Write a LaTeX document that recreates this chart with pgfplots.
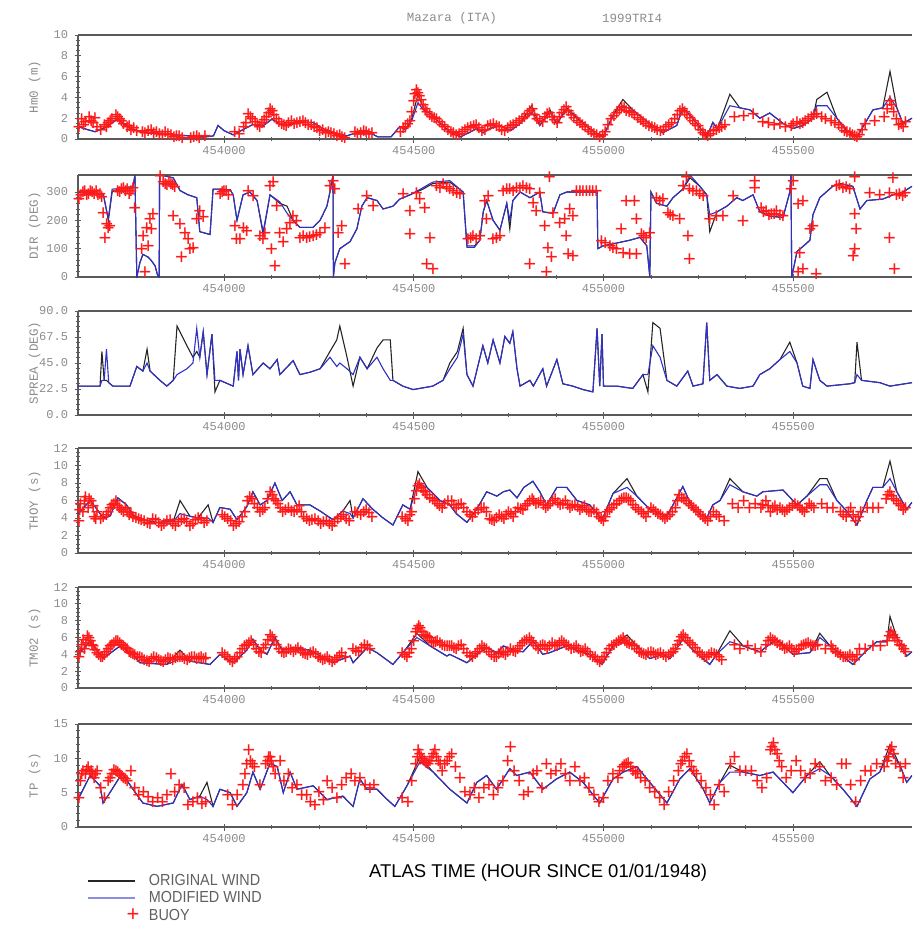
\documentclass[border=0pt]{standalone}
\usepackage{fontspec}
\usepackage{pgfplots}
\pgfplotsset{compat=1.18}
\usepackage{pgfplotstable}
\setmainfont{Liberation Sans}
\newfontfamily\monofont{Liberation Mono}
\newfontfamily\legfont[FakeStretch=0.9]{Liberation Sans}
\newfontfamily\plusfont{Liberation Sans}
\newcommand\buoyfont{\plusfont\fontsize{22}{22}\selectfont}
\definecolor{origc}{HTML}{262626}
\definecolor{modc}{HTML}{3030C8}
\definecolor{buoyc}{HTML}{FF1A1A}
\definecolor{axc}{HTML}{5A5A5A}
\definecolor{txtc}{HTML}{8C8C8C}

\pgfplotsset{
  panel/.style={
    scale only axis, width=834pt,
    xmin=453615, xmax=455813,
    scaled x ticks=false,
    axis x line*=box, axis y line*=left,
    axis line style={-, draw=axc, line width=1.6pt},
    xtick={454000,454500,455000,455500},
    xticklabels={454000,454500,455000,455500},
    minor x tick num=3,
    xtick pos=left, ytick pos=left,
    tick align=center,
    major tick length=7pt, minor tick length=4pt,
    every tick/.style={axc, line width=0.8pt},
    ticklabel style={font=\monofont\fontsize{12}{12}\selectfont, text=txtc},
    yticklabel style={xshift=-3pt},
    /pgf/number format/assume math mode=true,
    ylabel style={font=\monofont\fontsize{12.5}{12.5}\selectfont, text=txtc, at={(axis description cs:-0.052,0.5)}, anchor=center},
  },
  buoy/.style={only marks, mark=none, forget plot, nodes near coords={+},
    every node near coord/.append style={anchor=center, inner sep=0pt, outer sep=0pt, font=\buoyfont, text=buoyc}},
  orig/.style={origc, line width=1.1pt, no marks, forget plot},
  modw/.style={modc, line width=1.1pt, no marks, forget plot},
  lineleg/.style={legend image code/.code={\draw[##1] (0pt,0pt) -- (47pt,0pt);}},
  buoyleg/.style={legend image code/.code={\node[text=buoyc, font=\buoyfont, inner sep=0pt] at (38pt,0pt) {+};}},
}

\pgfplotstableread{
x o m
453615 1.2 1.2
453640 0.9 0.9
453660 0.7 0.7
453680 1.0 1.0
453700 1.4 1.4
453718 1.9 1.9
453735 1.5 1.5
453760 0.9 0.9
453790 0.6 0.6
453830 0.5 0.5
453870 0.4 0.4
453910 0.3 0.3
453950 0.2 0.2
453972 0.3 0.3
453984 1.3 1.3
454000 0.8 0.8
454024 0.4 0.4
454050 0.9 0.9
454076 1.4 1.4
454100 1.2 1.2
454126 1.9 1.9
454150 1.4 1.4
454165 1.3 1.3
454200 1.6 1.6
454234 1.6 1.6
454260 1.0 1.0
454290 0.6 0.6
454323 0.3 0.3
454340 0.5 0.5
454390 0.5 0.5
454405 0.2 0.2
454440 0.2 0.2
454463 1.2 1.2
454478 0.9 0.9
454495 2.0 1.8
454511 4.3 3.5
454525 3.0 2.8
454545 2.4 2.4
454570 1.5 1.5
454595 0.7 0.7
454622 0.2 0.2
454645 0.6 0.6
454666 1.0 1.0
454683 0.6 0.6
454700 1.0 1.0
454727 1.3 1.3
454755 0.8 0.8
454780 1.5 1.5
454811 3.2 2.6
454832 1.3 1.3
454859 2.8 2.6
454877 1.5 1.5
454903 3.0 2.8
454946 1.5 1.5
454983 0.4 0.4
455000 0.3 0.3
455025 2.3 2.3
455051 3.8 3.2
455077 2.8 2.8
455100 2.1 2.1
455122 1.5 1.5
455156 0.6 0.6
455193 1.3 1.3
455209 3.0 3.0
455230 2.2 2.2
455246 1.5 1.5
455272 0.2 0.2
455288 1.6 1.6
455300 1.0 1.0
455333 4.3 3.2
455359 3.0 3.0
455386 2.8 2.8
455412 2.0 2.0
455438 2.5 2.5
455473 1.5 1.5
455499 1.0 1.0
455525 1.3 1.3
455552 2.0 2.0
455562 3.8 3.2
455589 4.5 3.2
455615 2.0 2.0
455641 0.8 0.8
455668 0.2 0.2
455694 1.8 1.8
455710 2.8 2.8
455736 3.0 3.0
455755 6.5 4.0
455773 3.0 3.0
455789 1.5 1.5
455813 2.0 2.0
}\hmtab

\pgfplotstableread{
x o m
453615 300 300
453640 300 300
453665 295 295
453682 290 290
453695 200 205
453705 300 310
453720 310 312
453745 315 318
453760 318 318
453765 360 360
453770 0 0
453778 50 50
453786 80 80
453800 70 70
453807 60 60
453818 40 40
453825 5 5
453829 0 0
453830 360 360
453850 355 355
453866 350 350
453884 305 305
453905 290 290
453928 280 280
453936 160 160
453963 150 150
453971 310 310
453989 310 310
454016 308 308
454024 290 290
454034 200 200
454050 290 290
454068 300 300
454087 270 270
454103 150 160
454121 290 290
454147 260 265
454166 250 225
454182 200 200
454200 175 175
454234 175 175
454253 200 200
454271 250 250
454279 300 300
454287 360 360
454288 0 0
454292 50 50
454305 100 100
454332 125 125
454350 170 170
454363 250 250
454377 280 280
454403 270 270
454419 240 240
454445 250 250
454463 275 275
454490 290 290
454524 310 315
454550 330 335
454595 335 340
454630 300 300
454640 110 105
454660 110 105
454674 130 130
454683 230 230
454692 270 270
454709 200 200
454727 165 165
454745 260 260
454753 170 200
454761 270 270
454780 300 300
454806 280 280
454832 300 300
454840 230 230
454867 225 225
454885 290 290
454903 300 300
454983 300 300
454985 100 100
454999 110 110
455035 120 120
455070 130 130
455096 140 140
455114 110 110
455122 0 0
455125 300 300
455140 260 260
455167 250 250
455183 280 280
455209 310 310
455228 350 360
455254 320 320
455272 290 290
455280 160 220
455299 230 230
455325 250 250
455351 280 280
455367 270 270
455394 290 290
455412 230 230
455438 215 215
455473 210 210
455491 300 300
455494 360 360
455496 0 0
455510 90 90
455536 120 120
455544 130 130
455552 220 220
455570 280 280
455604 320 320
455623 330 330
455657 320 320
455676 240 240
455694 270 270
455736 275 275
455763 290 290
455789 300 300
455813 320 320
}\dirtab

\pgfplotstableread{
x o m
453615 25 25
453673 25 25
453678 55 30
453684 30 30
453690 30 57
453696 28 28
453707 25 25
453752 25 25
453770 42 42
453786 38 38
453797 57 45
453805 38 38
453831 30 30
453849 25 25
453866 30 30
453876 77 35
453902 60 40
453918 50 45
453928 55 75
453936 50 50
453945 72 72
453955 35 35
453968 70 70
453976 20 30
453989 30 30
454024 25 25
454034 55 55
454038 30 30
454042 57 57
454050 35 35
454063 60 60
454076 35 35
454103 45 45
454121 40 40
454140 48 48
454147 35 35
454182 47 47
454200 35 35
454226 37 37
454253 40 40
454279 55 50
454297 65 42
454305 77 45
454324 50 40
454340 25 35
454358 50 50
454377 40 40
454403 58 50
454419 65 40
454438 65 30
454445 30 30
454471 25 25
454498 22 22
454550 25 25
454577 30 30
454595 45 40
454615 55 50
454630 75 70
454640 35 35
454656 25 25
454682 60 60
454695 45 45
454709 65 65
454727 45 45
454740 68 68
454753 62 62
454761 72 72
454772 40 40
454780 25 25
454806 30 30
454815 25 25
454840 40 40
454850 25 25
454877 48 48
454893 27 27
454919 25 25
454946 22 22
454972 20 20
454983 75 75
454990 25 25
454996 70 70
455000 25 25
455035 25 25
455077 23 23
455104 35 35
455117 20 35
455130 80 60
455149 75 50
455167 30 30
455193 25 25
455222 38 38
455236 25 25
455262 27 27
455272 80 80
455280 30 30
455299 35 35
455325 25 25
455359 23 23
455394 25 25
455412 35 35
455438 40 40
455465 48 48
455491 63 55
455510 45 45
455525 25 25
455544 23 23
455552 48 48
455570 30 30
455589 25 25
455649 27 27
455662 28 28
455668 63 35
455680 30 30
455728 28 28
455755 25 25
455813 28 28
}\sptab

\pgfplotstableread{
x o m
453615 4.5 4.5
453647 6.0 6.0
453665 5.0 5.0
453681 4.0 4.0
453699 4.2 4.2
453720 6.3 6.3
453743 5.5 5.5
453760 4.3 4.3
453786 3.8 3.8
453823 3.5 3.5
453866 3.6 3.6
453884 6.0 4.5
453910 4.2 4.2
453931 4.0 4.0
453958 5.5 4.0
453971 3.5 3.5
453989 5.2 5.2
454016 5.0 5.0
454034 3.8 3.8
454060 5.3 5.3
454076 7.0 7.0
454095 5.5 5.5
454113 6.0 6.0
454134 8.0 8.0
454153 6.0 6.0
454174 7.0 7.0
454192 5.5 5.5
454226 5.5 5.5
454253 4.8 4.8
454287 3.8 3.8
454313 4.8 4.8
454332 6.0 4.5
454340 4.0 4.0
454366 6.2 6.2
454392 5.0 5.0
454419 4.0 4.0
454445 3.2 3.2
454471 5.5 5.5
454490 5.0 5.0
454511 9.3 8.0
454535 7.5 7.5
454569 6.0 6.0
454595 5.5 5.5
454612 4.5 4.5
454640 3.5 3.5
454666 5.0 5.0
454692 7.0 7.0
454719 6.5 6.5
454736 7.0 7.0
454753 7.2 7.2
454772 6.3 6.3
454790 7.5 7.5
454814 8.2 8.2
454832 7.0 7.0
454850 5.5 5.5
454877 7.5 7.5
454903 7.5 7.5
454930 6.0 6.0
454964 5.5 5.5
454996 3.8 3.8
455025 6.8 6.8
455062 8.5 7.5
455088 6.5 6.5
455122 5.0 5.0
455167 4.2 4.2
455209 7.6 7.6
455236 5.0 5.0
455272 4.0 4.0
455288 5.5 5.5
455307 6.0 6.0
455333 8.5 7.8
455367 7.0 7.0
455404 6.5 6.5
455420 7.0 7.0
455473 7.2 7.2
455510 5.5 5.5
455536 6.5 6.5
455570 8.5 7.8
455589 8.5 7.8
455615 6.0 6.0
455641 4.8 4.8
455668 3.2 3.2
455694 6.0 6.0
455710 7.5 7.5
455736 7.5 7.5
455755 10.5 8.5
455773 7.0 7.0
455799 5.0 5.0
455813 5.8 5.8
}\thtab

\pgfplotstableread{
x o m
453615 4.0 4.0
453647 5.5 5.5
453665 4.5 4.5
453681 3.5 3.5
453726 5.0 5.0
453760 4.0 4.0
453778 3.0 3.0
453849 2.8 2.8
453884 4.5 3.5
453910 3.2 3.2
453936 3.0 3.0
453963 2.8 2.8
453989 4.0 4.0
454024 3.0 3.0
454060 4.5 4.5
454076 5.8 5.8
454095 4.5 4.5
454113 4.0 4.0
454134 6.0 6.0
454153 4.5 4.5
454182 4.8 4.8
454226 4.5 4.5
454287 3.0 3.0
454332 3.8 3.8
454340 3.0 3.0
454377 4.8 4.8
454403 4.2 4.2
454445 2.8 2.8
454477 4.5 4.5
454508 6.5 6.0
454543 5.0 5.0
454587 3.8 3.8
454595 4.0 4.0
454640 3.0 3.0
454666 4.0 4.0
454692 4.8 4.8
454719 4.2 4.2
454736 5.0 5.0
454761 4.5 4.5
454788 4.3 4.3
454814 5.6 5.6
454840 4.0 4.0
454858 4.2 4.2
454903 5.0 5.0
454938 4.3 4.3
454964 4.0 4.0
454996 2.8 2.8
455025 5.0 5.0
455062 6.3 5.5
455088 5.0 5.0
455122 3.5 3.5
455157 4.0 4.0
455175 3.5 3.5
455209 5.8 5.8
455236 4.5 4.5
455280 2.8 2.8
455298 4.0 4.0
455333 6.8 5.5
455368 5.0 5.0
455412 4.3 4.3
455456 5.8 5.8
455499 4.0 4.0
455544 4.2 4.2
455570 6.5 6.0
455597 5.0 5.0
455657 2.8 2.8
455694 4.5 4.5
455720 5.5 5.5
455747 5.5 5.5
455755 8.5 7.0
455773 6.0 6.0
455799 3.8 3.8
455813 4.3 4.3
}\tmtab

\pgfplotstableread{
x o m
453615 4.0 4.0
453647 7.5 7.5
453673 6.0 6.0
453681 3.5 3.5
453699 5.0 5.0
453731 7.8 7.8
453760 5.5 5.5
453786 3.5 3.5
453823 3.0 3.0
453866 3.5 3.5
453889 6.2 6.2
453910 4.0 4.0
453936 4.5 4.5
453955 6.5 4.0
453971 3.0 3.0
453989 5.5 5.5
454016 5.0 5.0
454034 3.0 3.0
454060 5.0 5.0
454076 8.0 8.0
454095 5.5 5.5
454121 9.3 9.3
454140 8.8 8.8
454156 5.0 5.0
454174 8.0 8.0
454192 5.5 5.5
454235 6.0 6.0
454271 4.0 4.0
454313 4.5 4.5
454340 3.0 3.0
454358 7.0 7.0
454376 5.5 5.5
454403 5.5 5.5
454430 4.0 4.0
454450 3.0 3.0
454482 6.0 6.0
454516 10.2 9.5
454551 8.0 8.0
454595 5.5 5.5
454640 3.5 3.5
454666 6.5 6.5
454692 7.5 7.5
454718 5.5 5.5
454753 8.5 8.5
454771 7.5 7.5
454806 8.0 8.0
454840 5.5 5.5
454876 7.0 7.0
454911 8.0 8.0
454946 6.5 6.5
454990 3.5 3.5
455025 7.0 7.0
455052 8.0 8.0
455088 8.8 8.8
455122 6.5 6.5
455167 3.5 3.5
455201 7.0 7.0
455228 8.5 8.5
455263 5.5 5.5
455280 3.5 3.5
455307 6.5 6.5
455333 9.0 8.0
455368 8.0 8.0
455412 7.5 7.5
455447 8.0 8.0
455499 5.0 5.0
455536 7.5 7.5
455570 9.5 8.5
455597 7.5 7.5
455631 5.5 5.5
455668 3.0 3.0
455702 7.0 7.0
455728 8.0 8.0
455755 12.0 11.0
455781 9.0 9.0
455799 6.5 6.5
455813 7.5 7.5
}\tptab

\begin{document}
\begin{tikzpicture}
\path[use as bounding box] (0pt,0pt) rectangle (913pt,-927pt);
\node[font=\monofont\fontsize{12.5}{12.5}\selectfont, text=txtc] at (452pt,-18pt) {Mazara (ITA)};
\node[font=\monofont\fontsize{12.5}{12.5}\selectfont, text=txtc] at (632pt,-18pt) {1999TRI4};

% Panel 1 Hm0
\begin{axis}[panel, at={(78pt,-139pt)}, anchor=south west, height=104pt,
  ymin=0, ymax=10, ytick={0,2,4,6,8,10}, yticklabels={0,2,4,6,8,10}, minor y tick num=3,
  ylabel={Hm0 (m)}]
\addplot[buoy] coordinates {(453618,1.0) (453625,1.8) (453635,1.5) (453645,2.0) (453655,1.4) (453665,1.0) (453675,0.8) (453685,1.2) (453695,1.4) (453705,1.8) (453715,2.2) (453725,1.8) (453735,1.3) (453745,1.0) (453755,0.8) (453770,0.7) (453785,0.6) (453800,0.7) (453815,0.5) (453830,0.4) (453845,0.6) (453860,0.3) (453875,0.2) (453890,0.0) (453905,-0.1) (453920,0.1) (453935,0.0) (453950,0.2)
(454028,0.6) (454040,0.4) (454052,1.0) (454064,2.3) (454075,1.8) (454088,1.2) (454100,1.4) (454112,2.0) (454122,2.8) (454132,2.2) (454145,1.5) (454158,1.2) (454170,1.4) (454185,1.3) (454200,1.5) (454215,1.4) (454230,1.2) (454245,0.9) (454260,0.8) (454275,0.6) (454290,0.4) (454305,0.3) (454318,0.0)
(454345,0.6) (454360,0.5) (454375,0.6) (454390,0.5)
(454465,0.6) (454478,1.0) (454490,1.6) (454500,3.5) (454507,4.6) (454515,4.0) (454525,3.2) (454535,2.5) (454548,2.0) (454560,1.8) (454575,1.2) (454590,0.8) (454605,0.5) (454620,0.4) (454635,0.8) (454650,1.0) (454665,1.2) (454680,0.7) (454695,1.1) (454710,1.3) (454725,1.0) (454740,0.7) (454755,1.1) (454770,1.4) (454785,1.8) (454800,2.3) (454812,2.8) (454825,1.8) (454840,1.5) (454852,2.3) (454865,2.0) (454878,1.4) (454890,2.4) (454902,3.0) (454915,2.2) (454930,1.6) (454945,1.2) (454960,0.8) (454975,0.4) (454990,0.1) (455005,0.6) (455020,1.8) (455035,2.4) (455048,3.0) (455060,2.6) (455075,2.4) (455090,1.9) (455105,1.5) (455120,1.1) (455135,0.9) (455150,0.7) (455165,1.0) (455180,1.4) (455195,2.2) (455208,2.8) (455220,2.2) (455235,1.6) (455250,1.1) (455262,0.5) (455275,0.2) (455290,0.7) (455305,0.9) (455320,1.2) (455345,2.0) (455370,2.1) (455395,2.3) (455420,1.5) (455435,1.4) (455450,1.2) (455465,1.3) (455480,1.0) (455495,1.1) (455510,1.5) (455525,1.4) (455540,1.8) (455555,2.2) (455575,2.0) (455600,1.6) (455620,1.2) (455635,0.7) (455650,0.5) (455662,0.2) (455675,0.3) (455690,1.3) (455715,1.6) (455740,2.0) (455755,3.5) (455765,2.5) (455778,1.2) (455790,1.0) (455796,1.5)
(453630,1.2) (453650,1.6) (453660,1.9) (453690,1.0) (453700,1.6) (453720,2.0) (453730,1.6) (453750,1.1) (453762,0.9) (453792,0.5) (453808,0.8) (453822,0.6) (453838,0.3) (453852,0.4) (453868,0.1) (453882,0.2) (453898,-0.1) (453912,0.0) (453928,0.2) (453942,-0.1) (454058,1.4) (454070,2.0) (454082,1.5) (454094,1.0) (454106,1.7) (454118,2.4) (454127,2.6) (454138,1.8) (454152,1.3) (454164,1.1) (454178,1.6) (454192,1.4) (454208,1.6) (454222,1.2) (454238,1.0) (454252,0.7) (454268,0.5) (454282,0.5) (454298,0.2) (454311,0.1) (454352,0.4) (454368,0.7) (454382,0.4) (454472,0.9) (454484,1.3) (454495,2.5) (454503,4.2) (454511,4.3) (454520,3.6) (454530,2.8) (454542,2.2) (454554,1.9) (454568,1.5) (454582,1.0) (454598,0.6) (454612,0.3) (454628,0.6) (454642,0.9) (454658,1.1) (454672,0.9) (454688,0.8) (454702,1.2) (454718,1.1) (454732,0.8) (454748,0.9) (454762,1.2) (454778,1.6) (454792,2.0) (454806,2.6) (454818,2.2) (454832,1.6) (454846,2.0) (454858,2.4) (454871,1.7) (454884,2.0) (454896,2.7) (454908,2.6) (454922,1.9) (454938,1.4) (454952,1.0) (454968,0.6) (454982,0.3) (454998,0.3) (455012,1.2) (455028,2.1) (455042,2.7) (455055,2.9) (455068,2.5) (455082,2.2) (455098,1.7) (455112,1.3) (455128,1.0) (455142,0.8) (455158,0.8) (455172,1.2) (455188,1.8) (455202,2.6) (455214,2.5) (455228,1.9) (455242,1.3) (455256,0.8) (455268,0.3) (455282,0.4) (455298,0.8) (455312,1.0) (455500,1.3) (455518,1.3) (455532,1.6) (455548,2.0) (455562,2.3) (455585,1.8) (455610,1.4) (455628,0.9) (455642,0.6) (455656,0.3) (455668,0.1) (455682,0.8) (455748,2.8) (455760,3.2) (455772,1.8) (455785,1.3)};
\addplot[orig] table[x=x,y=o] {\hmtab};
\addplot[modw] table[x=x,y=m] {\hmtab};
\end{axis}

% Panel 2 DIR
\begin{axis}[panel, at={(78pt,-277pt)}, anchor=south west, height=102pt,
  ymin=0, ymax=360, ytick={0,100,200,300}, yticklabels={0,100,200,300}, minor y tick num=4,
  ylabel={DIR (DEG)}]
\addplot[buoy] coordinates {(453618,270) (453628,295) (453638,285) (453648,300) (453658,290) (453668,285) (453678,280)
(453623,285) (453633,300) (453643,290) (453653,295) (453663,300) (453673,290)
(453682,223) (453691,182) (453699,176) (453686,135) (453695,170)
(453720,300) (453730,305) (453740,300) (453750,290) (453760,310) (453765,240) (453725,295) (453735,310) (453745,305) (453755,300)
(453783,94) (453787,141) (453796,170) (453805,200) (453813,218) (453792,12) (453800,106) (453809,165)
(453832,352) (453840,330) (453850,320) (453860,325) (453870,315) (453845,325) (453855,330) (453865,320)
(453866,212) (453884,182) (453897,153) (453906,129) (453910,94) (453888,65) (453919,100) (453928,200) (453936,229) (453945,206)
(453990,290) (454000,300) (454012,285) (453995,295) (454006,300)
(454029,176) (454033,129) (454042,129) (454051,170) (454060,159) (454064,300) (454077,282)
(454095,141) (454103,129) (454108,153)
(454121,318) (454130,330) (454139,247) (454125,94) (454134,35) (454147,153) (454156,118) (454165,165) (454174,188) (454182,212) (454191,194)
(454200,135) (454218,135) (454235,141) (454253,153) (454266,170) (454209,140) (454226,138) (454244,145)
(454279,318) (454288,335) (454292,306) (454301,153) (454310,176) (454319,41)
(454354,235) (454376,282) (454393,247)
(454472,288) (454490,229) (454490,147) (454516,270) (454529,241) (454543,135) (454534,41) (454551,24) (454507,294)
(454560,318) (454578,323) (454595,306) (454613,294) (454569,310) (454587,315) (454604,300)
(454622,290) (454643,129) (454656,141) (454674,141) (454709,129) (454718,135) (454727,141) (454650,135) (454665,130)
(454687,264) (454696,282) (454692,200)
(454736,299) (454753,305) (454771,311) (454788,317) (454806,305) (454745,305) (454762,300) (454780,310) (454797,310)
(454815,258) (454823,229) (454832,293) (454845,176) (454854,100) (454858,350) (454863,65) (454850,12) (454806,41)
(454867,223) (454885,188) (454898,200) (454911,235) (454902,141) (454920,211) (454907,76) (454920,70)
(454929,299) (454946,299) (454964,299) (454981,299) (454938,299) (454955,299) (454972,299)
(454995,123) (455017,106) (455034,94) (455052,82) (455069,76) (455087,76) (455047,164) (455060,264) (455082,264) (455087,200) (455005,115) (455025,100)
(455100,147) (455113,135) (455122,153) (455106,140)
(455140,276) (455157,270) (455170,223) (455183,211) (455201,200) (455223,141) (455227,59) (455219,350) (455148,265) (455176,215)
(455210,317) (455227,305) (455245,299) (455263,282) (455236,300) (455254,290)
(455280,200) (455298,211) (455315,211) (455368,194) (455342,282) (455399,334) (455399,311)
(455416,240) (455429,229) (455443,217) (455456,229) (455473,211) (455422,225) (455436,215) (455450,220) (455465,215)
(455495,305) (455500,334)
(455513,252) (455526,264) (455517,82) (455526,23) (455544,164) (455552,176) (455561,6) (455513,12)
(455614,317) (455631,311) (455649,305) (455662,350) (455622,320) (455640,315)
(455662,217) (455666,164) (455662,94) (455658,70)
(455702,293) (455728,287) (455754,293) (455772,287) (455789,282) (455795,293) (455754,135) (455767,23) (455763,346) (455780,290)};
\addplot[orig] table[x=x,y=o] {\dirtab};
\addplot[modw] table[x=x,y=m] {\dirtab};
\end{axis}

% Panel 3 SPREAD
\begin{axis}[panel, at={(78pt,-415pt)}, anchor=south west, height=104pt,
  ymin=0, ymax=90, ytick={0,22.5,45,67.5,90}, yticklabels={0.0,22.5,45.0,67.5,90.0}, minor y tick num=4,
  ylabel={SPREA (DEG)}]
\addplot[orig] table[x=x,y=o] {\sptab};
\addplot[modw] table[x=x,y=m] {\sptab};
\end{axis}

% Panel 4 THOY
\begin{axis}[panel, at={(78pt,-553pt)}, anchor=south west, height=105pt,
  ymin=0, ymax=12, ytick={0,2,4,6,8,10,12}, yticklabels={0,2,4,6,8,10,12}, minor y tick num=3,
  ylabel={THOY (s)}]
\addplot[buoy] coordinates {(453618,3.5) (453622,5.5) (453628,4.5) (453635,6.3) (453642,5.0) (453650,5.8) (453658,4.0) (453665,4.5) (453675,3.8) (453690,4.2) (453700,5.0) (453710,5.5) (453720,5.2) (453730,4.8) (453740,5.0) (453750,4.2) (453760,4.0) (453775,3.8) (453790,3.5) (453805,3.2) (453820,3.6) (453835,3.0) (453850,3.5) (453865,3.2) (453880,3.4) (453895,3.8) (453910,3.0) (453925,3.6) (453940,3.8) (453955,3.5)
(453995,4.2) (454010,3.8) (454025,3.0) (454040,3.4) (454055,4.5) (454068,6.3) (454080,5.5) (454095,4.5) (454108,5.0) (454122,6.8) (454132,6.0) (454142,5.5) (454155,4.5) (454170,5.0) (454185,4.5) (454198,5.2) (454210,4.0) (454225,3.5) (454240,3.8) (454255,3.2) (454270,3.5) (454285,3.0) (454300,3.8) (454315,4.2) (454330,3.5) (454345,4.5) (454360,4.2) (454375,4.8) (454390,4.0)
(454470,4.0) (454485,3.5) (454495,4.5) (454507,7.0) (454515,7.8) (454525,7.0) (454535,6.5) (454550,6.0) (454562,5.5) (454575,5.0) (454590,5.8)
(454600,5.8) (454612,5.0) (454625,5.5) (454640,4.5) (454655,4.0) (454670,4.8) (454685,5.0) (454700,3.8) (454712,3.5) (454725,4.2) (454738,3.8) (454750,4.5) (454762,4.0) (454775,5.0) (454788,4.8) (454800,5.5) (454812,6.0) (454822,5.5) (454835,5.8) (454848,5.0) (454860,5.5) (454873,6.0) (454886,5.3) (454900,5.8) (454912,5.0) (454925,5.4) (454938,4.8) (454950,5.2) (454962,4.5) (454975,4.8) (454988,4.0) (455000,3.5) (455010,4.5) (455022,5.0) (455035,5.5) (455048,6.0) (455060,6.2) (455072,5.8) (455085,5.0) (455100,4.5) (455112,4.0) (455125,5.0) (455138,4.5) (455150,4.2) (455162,3.8) (455175,4.2) (455190,5.0) (455200,6.5) (455212,6.0) (455225,5.5) (455238,5.0) (455250,4.5) (455262,4.0) (455275,3.5) (455290,4.5) (455305,4.0) (455318,3.5) (455340,5.5) (455355,5.0) (455370,5.8) (455385,5.0) (455400,5.5) (455415,5.0) (455428,5.8) (455440,4.5) (455452,5.2) (455465,5.0) (455478,4.5) (455490,5.0) (455505,5.5) (455518,5.0) (455530,4.5) (455542,5.5) (455555,5.0) (455575,5.5) (455590,5.0) (455605,5.0) (455625,4.5) (455640,4.0) (455652,5.0) (455665,3.5) (455678,4.5) (455695,5.0) (455710,5.0) (455725,5.0) (455745,6.0) (455755,6.8) (455765,6.0) (455778,5.5) (455790,4.8) (455796,5.0)
(453620,4.8) (453632,5.8) (453645,6.0) (453655,5.2) (453662,3.8) (453682,4.0) (453695,4.6) (453705,5.3) (453715,5.8) (453725,5.0) (453735,4.5) (453745,4.6) (453755,4.4) (453768,3.9) (453782,3.6) (453798,3.3) (453812,3.8) (453828,3.3) (453842,3.2) (453858,3.6) (453872,3.0) (453888,3.6) (453902,3.4) (453918,3.2) (453932,3.9) (453948,3.3) (454002,4.0) (454018,3.5) (454032,3.2) (454048,4.0) (454062,5.8) (454074,6.0) (454088,5.0) (454102,4.8) (454115,6.0) (454127,6.5) (454137,5.8) (454148,5.0) (454162,4.8) (454178,4.7) (454192,4.8) (454204,4.5) (454218,3.8) (454232,3.6) (454248,3.5) (454262,3.4) (454278,3.2) (454292,3.4) (454308,4.0) (454322,3.8) (454352,4.4) (454368,4.6) (454382,4.4) (454478,3.8) (454490,4.2) (454502,6.0) (454511,7.5) (454520,7.3) (454530,6.8) (454542,6.2) (454556,5.8) (454568,5.2) (454582,5.5) (454606,5.4) (454618,5.3) (454632,5.0) (454648,4.2) (454662,4.4) (454678,5.0) (454692,4.6) (454706,3.6) (454718,3.9) (454732,4.0) (454744,4.2) (454756,4.3) (454768,4.5) (454782,4.9) (454794,5.2) (454806,5.8) (454816,5.8) (454829,5.6) (454842,5.4) (454854,5.2) (454866,5.8) (454880,5.6) (454893,5.5) (454906,5.4) (454918,5.2) (454932,5.1) (454944,5.0) (454956,4.8) (454968,4.6) (454982,4.4) (454994,3.8) (455005,4.0) (455016,4.8) (455028,5.3) (455042,5.8) (455054,6.1) (455066,6.0) (455078,5.4) (455092,4.8) (455106,4.3) (455118,4.5) (455132,4.8) (455144,4.3) (455156,4.0) (455168,4.0) (455182,4.6) (455195,5.8) (455206,6.2) (455218,5.8) (455232,5.2) (455244,4.8) (455256,4.2) (455268,3.8) (455282,4.0) (455298,4.2) (455420,5.4) (455434,5.2) (455446,5.0) (455458,4.8) (455472,4.8) (455484,4.8) (455498,5.2) (455512,5.2) (455524,4.8) (455536,5.0) (455548,5.2) (455632,4.2) (455646,4.5) (455658,4.2) (455672,4.0) (455750,6.5) (455760,6.4) (455772,5.8) (455784,5.2)};
\addplot[orig] table[x=x,y=o] {\thtab};
\addplot[modw] table[x=x,y=m] {\thtab};
\end{axis}

% Panel 5 TM02
\begin{axis}[panel, at={(78pt,-688pt)}, anchor=south west, height=101pt,
  ymin=0, ymax=12, ytick={0,2,4,6,8,10,12}, yticklabels={0,2,4,6,8,10,12}, minor y tick num=3,
  ylabel={TM02 (s)}]
\addplot[buoy] coordinates {(453618,3.5) (453625,5.0) (453632,4.5) (453640,6.0) (453648,5.5) (453655,4.8) (453665,4.0) (453675,3.5) (453685,3.8) (453695,4.5) (453705,5.0) (453715,5.5) (453725,5.2) (453735,4.8) (453745,4.5) (453755,4.0) (453765,3.8) (453778,3.5) (453790,3.2) (453803,3.0) (453815,3.5) (453828,3.2) (453840,3.0) (453852,3.4) (453865,3.2) (453878,3.6) (453890,3.5) (453903,3.2) (453915,3.6) (453928,3.3) (453940,3.5) (453952,3.4)
(453995,4.0) (454010,3.5) (454022,3.0) (454035,3.5) (454048,4.5) (454060,5.0) (454072,5.5) (454085,4.5) (454098,4.0) (454110,5.0) (454122,6.2) (454132,5.5) (454145,4.5) (454158,4.0) (454170,4.5) (454183,4.2) (454195,4.6) (454208,4.0) (454220,3.8) (454235,4.2) (454248,3.6) (454260,3.2) (454272,3.5) (454285,3.0) (454298,3.4) (454310,4.0) (454320,3.5)
(454340,4.5) (454355,4.2) (454370,5.0) (454385,4.5)
(454470,4.0) (454482,3.5) (454494,4.5) (454505,6.5) (454513,7.2) (454522,6.5) (454532,6.0) (454542,5.8) (454552,5.2) (454562,5.5) (454575,5.0) (454588,4.8)
(454600,4.8) (454612,4.5) (454625,5.0) (454640,4.0) (454655,3.5) (454668,4.2) (454680,4.8) (454692,4.5) (454705,3.8) (454718,3.5) (454730,4.2) (454742,3.8) (454755,4.5) (454768,4.2) (454780,4.8) (454792,5.5) (454805,5.8) (454815,5.2) (454828,4.5) (454840,5.0) (454852,4.5) (454865,5.2) (454878,4.8) (454890,5.5) (454902,5.0) (454915,4.5) (454928,4.8) (454940,4.2) (454952,4.5) (454965,3.8) (454978,3.5) (454990,3.0) (455002,3.5) (455015,4.5) (455028,5.0) (455040,5.5) (455052,5.8) (455062,5.2) (455075,5.0) (455088,4.5) (455100,4.0) (455112,3.8) (455125,4.2) (455138,3.8) (455150,4.0) (455165,3.5) (455178,4.0) (455190,4.5) (455200,5.5) (455210,6.2) (455222,5.5) (455235,5.0) (455248,4.2) (455260,3.8) (455272,3.5) (455285,4.0) (455298,3.8) (455312,3.2)
(455345,5.0) (455360,4.5) (455380,4.8) (455400,4.5) (455415,4.2) (455428,5.0) (455440,5.8) (455452,5.5) (455465,5.0) (455478,4.5) (455490,4.8) (455503,4.2) (455515,4.5) (455528,5.0) (455540,5.2) (455552,4.8) (455565,5.0) (455585,4.5) (455600,4.8) (455612,4.2) (455625,3.8) (455638,3.5) (455650,3.8) (455662,3.2) (455675,4.5) (455690,4.5) (455710,4.8) (455730,4.8) (455748,5.5) (455758,6.5) (455768,5.8) (455780,5.0) (455792,4.5) (455796,4.2)
(453621,4.2) (453629,5.6) (453636,5.2) (453644,5.8) (453652,5.0) (453660,4.4) (453670,3.8) (453680,3.6) (453690,4.2) (453700,4.8) (453710,5.2) (453720,5.4) (453730,5.0) (453740,4.6) (453750,4.2) (453760,3.9) (453772,3.6) (453784,3.4) (453797,3.1) (453809,3.3) (453822,3.4) (453834,3.1) (453846,3.2) (453858,3.3) (453872,3.4) (453884,3.5) (453896,3.3) (453909,3.4) (453922,3.5) (453934,3.4) (453946,3.3) (454002,3.8) (454016,3.2) (454028,3.3) (454042,4.0) (454054,4.8) (454066,5.2) (454078,5.0) (454092,4.2) (454104,4.6) (454116,5.6) (454127,5.9) (454138,5.0) (454152,4.2) (454164,4.2) (454176,4.4) (454189,4.4) (454202,4.3) (454214,3.9) (454228,4.0) (454242,3.9) (454254,3.4) (454266,3.3) (454278,3.2) (454292,3.2) (454304,3.7) (454348,4.3) (454362,4.6) (454378,4.8) (454476,3.8) (454488,4.0) (454500,5.5) (454509,6.9) (454517,7.0) (454527,6.2) (454537,5.9) (454547,5.5) (454557,5.3) (454569,5.2) (454582,4.9) (454594,4.9) (454606,4.6) (454618,4.8) (454632,4.5) (454648,3.7) (454662,3.9) (454674,4.5) (454686,4.6) (454698,4.1) (454712,3.6) (454724,3.9) (454736,4.0) (454748,4.2) (454762,4.3) (454774,4.5) (454786,5.2) (454798,5.6) (454810,5.5) (454822,4.8) (454834,4.8) (454846,4.8) (454858,4.9) (454872,5.0) (454884,5.2) (454896,5.2) (454908,4.8) (454922,4.6) (454934,4.5) (454946,4.3) (454958,4.2) (454972,3.6) (454984,3.2) (454996,3.2) (455008,4.0) (455022,4.8) (455034,5.2) (455046,5.6) (455057,5.5) (455068,5.1) (455082,4.8) (455094,4.2) (455106,3.9) (455118,4.0) (455132,4.0) (455144,3.9) (455158,3.8) (455172,3.8) (455184,4.2) (455195,5.0) (455205,5.9) (455216,5.8) (455228,5.2) (455242,4.6) (455254,4.0) (455266,3.6) (455278,3.8) (455292,3.9) (455305,3.5) (455434,5.4) (455446,5.6) (455458,5.2) (455472,4.8) (455484,4.6) (455496,4.5) (455509,4.4) (455522,4.8) (455534,5.1) (455546,5.0) (455558,4.9) (455605,4.5) (455618,4.0) (455632,3.6) (455644,3.6) (455656,3.5) (455668,3.8) (455753,6.0) (455763,6.2) (455774,5.4) (455786,4.8)};
\addplot[orig] table[x=x,y=o] {\tmtab};
\addplot[modw] table[x=x,y=m] {\tmtab};
\end{axis}

% Panel 6 TP
\begin{axis}[panel, at={(78pt,-827pt)}, anchor=south west, height=103pt,
  ymin=0, ymax=15, ytick={0,5,10,15}, yticklabels={0,5,10,15}, minor y tick num=4,
  ylabel={TP (s)},
  xlabel={ATLAS TIME (HOUR SINCE 01/01/1948)},
  xlabel style={font=\fontsize{18.5}{18.5}\selectfont, text=black, at={(axis description cs:0.5516,-0.447)}, anchor=center},
  legend style={at={(axis description cs:0.0115,-0.455)}, anchor=north west, draw=none, fill=none,
    font=\legfont\fontsize{16}{16.5}\selectfont, text=gray!75!black, inner sep=0pt, row sep=3.5pt, column sep=3pt,
    nodes={inner xsep=6.5pt, inner ysep=0.5pt}},
  legend cell align=left, lineleg]
\addlegendimage{origc, line width=1.3pt}
\addlegendentry{ORIGINAL WIND}
\addlegendimage{modc!55!white, line width=1.3pt}
\addlegendentry{MODIFIED WIND}
\addlegendimage{buoyc, buoyleg}
\addlegendentry{BUOY}
\addplot[buoy] coordinates {(453618,4.0) (453622,6.5) (453628,8.0) (453635,7.5) (453642,8.5) (453650,8.0) (453658,7.0) (453666,8.0) (453675,5.5) (453685,4.0) (453695,6.5) (453705,7.5) (453715,8.0) (453725,7.5) (453735,7.0) (453745,6.5) (453755,8.0) (453765,5.5) (453775,4.5) (453788,5.0) (453800,4.2) (453812,3.5) (453825,4.0) (453838,3.5) (453850,4.5) (453860,7.5) (453870,5.0) (453882,6.0) (453895,5.5) (453905,3.0) (453918,3.5) (453930,4.0) (453942,3.2) (453952,3.5)
(454010,4.5) (454022,3.0) (454035,4.5) (454050,6.0) (454060,9.0) (454065,11.0) (454070,9.5) (454080,8.5) (454095,6.0) (454110,9.0) (454118,10.0) (454125,9.5) (454135,7.5) (454148,9.5) (454158,6.5) (454170,7.5) (454180,5.5) (454192,6.0) (454205,4.5) (454218,4.5) (454228,3.5) (454240,3.0) (454250,5.0) (454262,3.8) (454272,6.5) (454285,5.5) (454298,4.0) (454310,6.0) (454322,7.0) (454335,7.5) (454345,6.5) (454358,7.0) (454372,6.0) (454385,5.5) (454395,6.0)
(454470,4.0) (454485,3.5) (454495,6.5) (454505,9.0) (454512,11.0) (454520,10.0) (454528,9.5) (454538,9.0) (454548,10.0) (454556,11.0) (454565,9.5) (454575,8.0) (454588,9.5)
(454600,10.5) (454610,8.5) (454622,7.0) (454635,5.0) (454648,4.5) (454660,5.5) (454672,4.0) (454685,5.5) (454698,6.0) (454710,4.5) (454722,5.5) (454735,6.5) (454748,9.5) (454755,11.5) (454765,8.0) (454778,6.5) (454790,4.5) (454802,5.0) (454815,7.5) (454825,8.0) (454838,5.5) (454850,9.0) (454862,7.5) (454875,8.0) (454888,9.0) (454900,7.5) (454912,6.5) (454925,8.5) (454938,6.5) (454950,7.0) (454962,5.5) (454975,4.5) (454988,3.5) (455000,4.0) (455012,6.5) (455025,7.5) (455038,7.0) (455050,8.5) (455060,9.0) (455072,8.5) (455085,7.5) (455098,7.0) (455110,6.5) (455122,5.5) (455135,5.0) (455148,4.0) (455160,3.0) (455172,5.0) (455185,6.5) (455198,8.0) (455208,9.5) (455220,10.5) (455232,8.5) (455245,7.5) (455258,6.5) (455270,5.5) (455282,4.5) (455292,3.0) (455305,6.0) (455318,5.0) (455335,9.0) (455345,10.0) (455360,8.0) (455375,8.0) (455390,8.0) (455405,6.5) (455418,5.5) (455430,7.0) (455440,11.0) (455448,12.0) (455458,10.5) (455470,8.5) (455482,7.0) (455495,8.0) (455508,9.5) (455520,8.0) (455532,7.0) (455545,7.5) (455558,9.0) (455570,8.5) (455585,6.5) (455600,7.0) (455615,6.0) (455628,9.0) (455640,9.0) (455652,6.0) (455665,3.5) (455678,6.5) (455690,8.0) (455705,8.0) (455720,9.0) (455740,8.5) (455752,10.0) (455760,11.5) (455770,9.0) (455782,8.5) (455790,7.0) (455796,9.0)
(453625,7.5) (453638,8.2) (453646,7.8) (453654,7.5) (453662,7.6) (453700,7.0) (453710,8.2) (453720,7.8) (453730,7.2) (453740,6.8) (454055,7.5) (454075,9.0) (454115,9.5) (454122,10.0) (454130,8.5) (454510,10.0) (454516,10.5) (454524,9.8) (454533,9.2) (454543,9.5) (454552,10.5) (454560,10.0) (454570,9.0) (454582,9.0) (454594,10.0) (455043,8.0) (455055,8.8) (455065,9.2) (455078,8.0) (455090,7.8) (455204,9.0) (455214,10.0) (455226,9.5) (455238,8.0) (455444,11.5) (455452,11.0) (455463,9.5) (455748,9.5) (455756,11.0) (455765,10.5)};
\addplot[orig] table[x=x,y=o] {\tptab};
\addplot[modw] table[x=x,y=m] {\tptab};
\end{axis}
\end{tikzpicture}
\end{document}
